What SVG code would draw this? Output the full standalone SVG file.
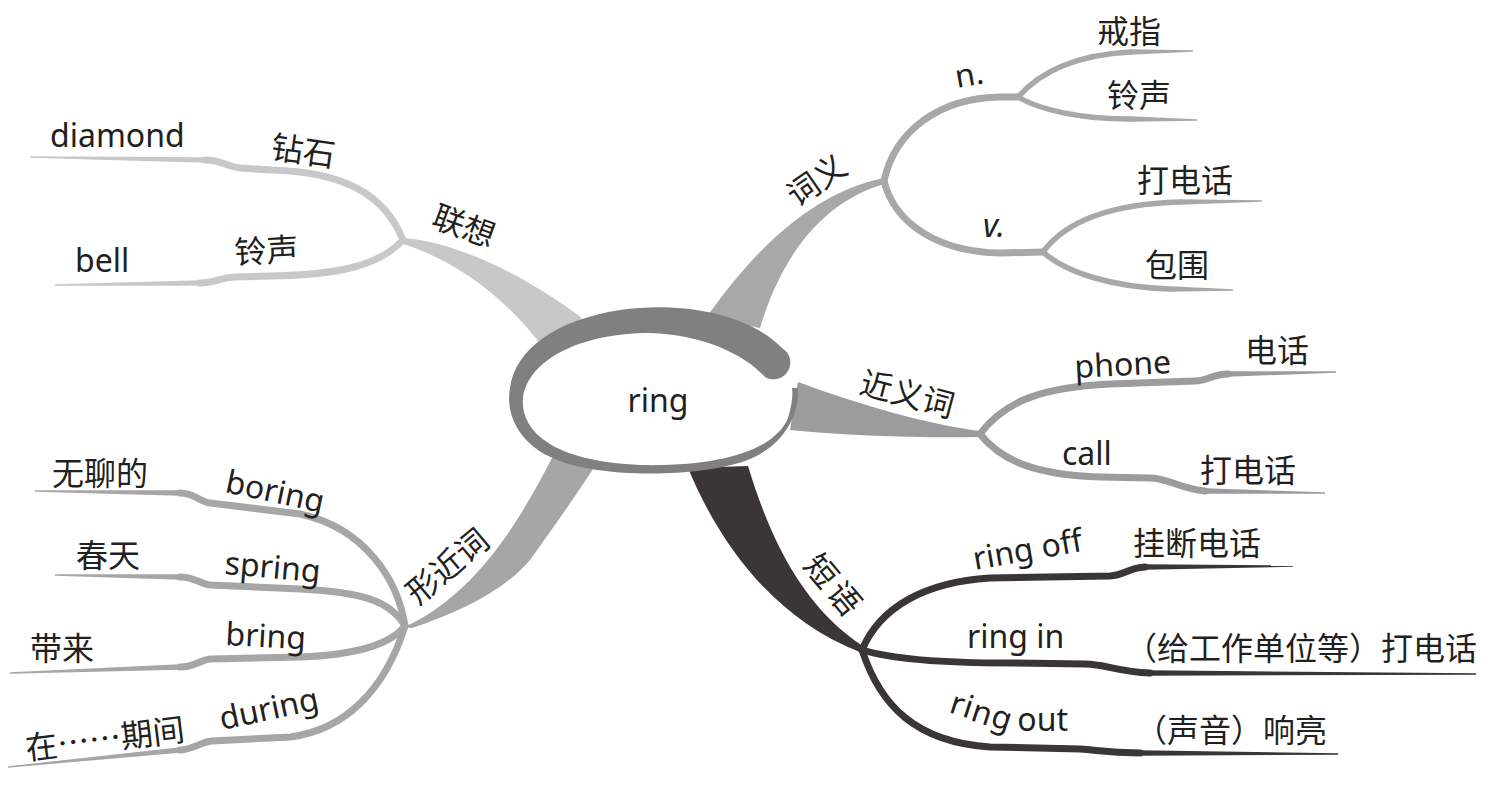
<svg xmlns="http://www.w3.org/2000/svg" width="1508" height="785" viewBox="0 0 1508 785">
<style>
text{font-family:'Noto Sans','Noto Sans CJK SC',sans-serif;font-size:32px;fill:#231f20}
.cjk{font-family:'Noto Sans CJK SC',sans-serif}
.ln{fill:none;stroke-width:7;stroke-linecap:round;stroke-linejoin:round}
.sub{stroke-width:5.5}
.g1{stroke:#c8c8c8}.f1{fill:#c8c8c8}
.g2{stroke:#a8a8a8}.f2{fill:#a8a8a8}
.g3{stroke:#9c9c9c}.f3{fill:#9c9c9c}
.g4{stroke:#3a3637}.f4{fill:#3a3637}
.g5{stroke:#a6a6a6}.f5{fill:#a6a6a6}
</style>
<rect width="1508" height="785" fill="#ffffff"/>
<g id="connectors">
  <!-- main bands -->
  <path class="f1" d="M403,238 C455,242 520,272 582,318 L545,350 C510,302 460,262 403,244 Z"/>
  <path class="f2" d="M706,318 C740,270 800,195 884,178 L884,184 C830,200 785,245 760,328 Z"/>
  <path class="f3" d="M798,382 C860,405 930,425 980,431 L980,437 C920,438 850,436 790,430 Z"/>
  <path class="f4" d="M688,468 C720,545 775,620 862,653 L864,647 C805,608 772,545 748,466 Z"/>
  <path class="f5" d="M552,458 C530,500 505,545 470,580 C450,600 430,615 405,627 L412,628 C460,612 505,590 530,560 C555,525 580,490 600,458 Z"/>
  <!-- 联想 -->
  <path class="ln g1" d="M403,240 C385,195 345,172 272,170 L240,168 C228,167 222,160 205,160"/>
  <polygon class="f1" points="205,157.3 30,156.3 30,157.7 205,162.7"/>
  <path class="ln g1" d="M403,240 C380,265 340,275 270,276 L235,277 C222,277 215,283 200,283"/>
  <polygon class="f1" points="200,280.3 55,284.3 55,285.7 200,285.7"/>
  <!-- 词义 -->
  <path class="ln g2" d="M884,181 C895,130 940,98 1000,97 L1018,97"/>
  <path class="ln g2" d="M884,181 C895,225 940,252 1000,253 L1043,252"/>
  <path class="ln g2 sub" d="M1018,97 C1040,72 1075,55 1130,52"/>
  <polygon class="f2" points="1130,49.3 1193,50.3 1193,51.7 1130,54.7"/>
  <path class="ln g2 sub" d="M1018,97 C1040,110 1080,119 1130,119"/>
  <polygon class="f2" points="1130,116.3 1197,119.3 1197,120.7 1130,121.7"/>
  <path class="ln g2 sub" d="M1043,252 C1065,222 1110,204 1180,202"/>
  <polygon class="f2" points="1180,199.3 1262,200.3 1262,201.7 1180,204.7"/>
  <path class="ln g2 sub" d="M1043,252 C1065,272 1110,287 1170,289"/>
  <polygon class="f2" points="1170,286.3 1233,289.3 1233,290.7 1170,291.7"/>
  <!-- 近义词 -->
  <path class="ln g3" d="M980,434 C1005,400 1045,387 1110,384 L1195,381 C1208,381 1212,374 1228,374"/>
  <polygon class="f3" points="1228,371.3 1336,371.3 1336,372.7 1228,376.7"/>
  <path class="ln g3" d="M980,434 C1003,463 1040,475 1100,477 L1150,478 C1168,478 1180,489 1205,491"/>
  <polygon class="f3" points="1205,488.3 1325,492.3 1325,493.7 1205,493.7"/>
  <!-- 短语 -->
  <path class="ln g4" d="M862,650 C880,607 925,582 990,578 L1110,576 C1125,575 1128,568 1145,567"/>
  <polygon class="f4" points="1145,564.3 1293,565.3 1293,566.7 1145,569.7"/>
  <path class="ln g4" d="M862,650 C895,660 945,663 1010,663 L1085,664 C1105,664 1118,672 1150,673"/>
  <polygon class="f4" points="1150,670.3 1476,673.3 1476,674.7 1150,675.7"/>
  <path class="ln g4" d="M862,650 C880,705 915,742 990,747 L1080,749 C1098,750 1105,753 1140,753"/>
  <polygon class="f4" points="1140,750.3 1338,753.3 1338,754.7 1140,755.7"/>
  <!-- 形近词 -->
  <path class="ln g5" d="M405,626 C398,580 365,528 300,514 L210,503 C200,502 195,493 180,493"/>
  <polygon class="f5" points="180,490.3 35,490.3 35,491.7 180,495.7"/>
  <path class="ln g5" d="M405,626 C390,600 360,592 300,589 L210,585 C200,584 195,577 180,577"/>
  <polygon class="f5" points="180,574.3 55,574.3 55,575.7 180,579.7"/>
  <path class="ln g5" d="M405,626 C390,645 355,655 300,657 L210,659 C200,660 195,667 180,667"/>
  <polygon class="f5" points="180,664.3 10,672.3 10,673.7 180,669.7"/>
  <path class="ln g5" d="M405,626 C385,690 345,730 290,737 L212,741 C200,742 195,749 180,750"/>
  <polygon class="f5" points="180,747.3 8,766.3 8,767.7 180,752.7"/>
</g>
<g id="center">
  <path fill="#ffffff" d="M765,377 C745,355 705,335 650,333 C580,333 528,360 523,398 C520,435 560,462 640,465 C720,467 775,450 788,418 C792,405 793,395 792,388 Z"/>
  <path fill="#808080" d="M798,388 C799,420 780,448 745,461 C700,477 600,479 555,459 C520,445 505,415 510,388 C515,350 555,320 620,310 C680,301 748,313 782,348 A14.5,14.5 0 0 1 765,377 C745,355 705,335 650,333 C580,333 528,360 523,398 C520,435 560,462 640,465 C720,467 775,450 788,418 C792,405 793,395 792,388 Z"/>
  <text x="658" y="412" text-anchor="middle">ring</text>
</g>
<g id="n-lianxiang"><text transform="translate(430,226) rotate(20)">联想</text></g>
<g id="n-zuanshi"><text transform="translate(270,158) rotate(8)">钻石</text></g>
<g id="n-diamond"><text x="50" y="147">diamond</text></g>
<g id="n-lingsheng-l"><text transform="translate(235,264) rotate(-3)">铃声</text></g>
<g id="n-bell"><text x="75" y="272">bell</text></g>
<g id="n-ciyi"><text transform="translate(797,208) rotate(-35)">词义</text></g>
<g id="n-n"><text transform="translate(957,88) rotate(-10)">n.</text></g>
<g id="n-jiezhi"><text x="1097" y="43">戒指</text></g>
<g id="n-lingsheng-r"><text x="1107" y="107">铃声</text></g>
<g id="n-v"><text x="983" y="237" font-style="italic">v.</text></g>
<g id="n-dadianhua-1"><text x="1137" y="192">打电话</text></g>
<g id="n-baowei"><text x="1145" y="277">包围</text></g>
<g id="n-jinyici"><text transform="translate(858,393) rotate(15)">近义词</text></g>
<g id="n-phone"><text transform="translate(1075,378) rotate(-3)">phone</text></g>
<g id="n-dianhua"><text x="1245" y="362">电话</text></g>
<g id="n-call"><text x="1062" y="465">call</text></g>
<g id="n-dadianhua-2"><text x="1200" y="482">打电话</text></g>
<g id="n-duanyu"><text transform="translate(802,566) rotate(50)" letter-spacing="4">短语</text></g>
<g id="n-ringoff"><text transform="translate(975,570) rotate(-10)">ring off</text></g>
<g id="n-guaduan"><text x="1133" y="555">挂断电话</text></g>
<g id="n-ringin"><text x="967" y="648">ring in</text></g>
<g id="n-geigongzuo"><text class="cjk" x="1125" y="660">（给工作单位等）打电话</text></g>
<g id="n-ringout"><text x="948" y="712" dy="0 4 4 5 5 1 0 0" rotate="18 18 18 18 0 0 0 0">ring out</text></g>
<g id="n-xiangliang"><text class="cjk" x="1135" y="742">（声音）响亮</text></g>
<g id="n-xingjinci"><text transform="translate(418,606) rotate(-40)">形近词</text></g>
<g id="n-boring"><text transform="translate(224,492) rotate(12)">boring</text></g>
<g id="n-wuliao"><text x="52" y="485">无聊的</text></g>
<g id="n-spring"><text transform="translate(224,574) rotate(5)">spring</text></g>
<g id="n-chuntian"><text x="76" y="567">春天</text></g>
<g id="n-bring"><text transform="translate(225,645) rotate(3)">bring</text></g>
<g id="n-dailai"><text x="30" y="660">带来</text></g>
<g id="n-during"><text transform="translate(222,730) rotate(-12)">during</text></g>
<g id="n-zaiqijian"><text class="cjk" transform="translate(27,760) rotate(-7)">在……期间</text></g>
</svg>
